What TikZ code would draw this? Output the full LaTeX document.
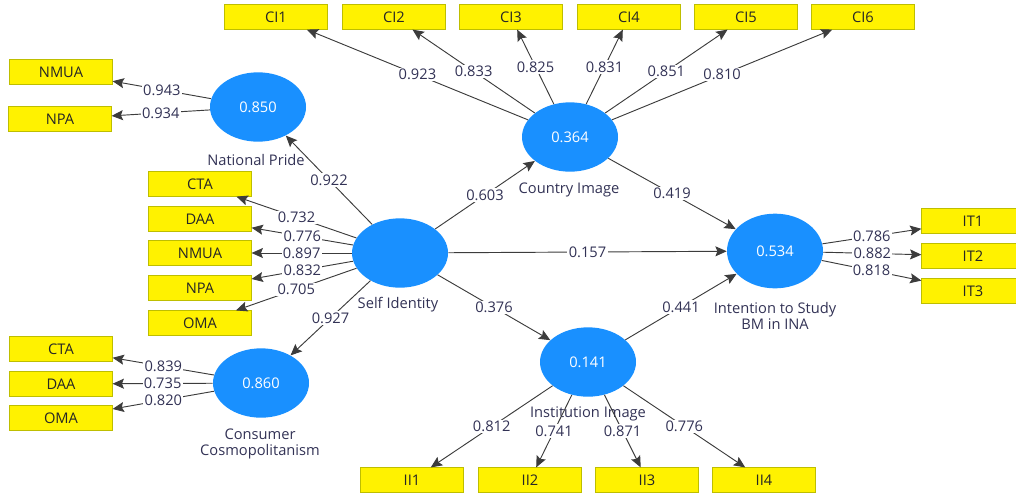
\documentclass[tikz,border=0pt]{standalone}
\usepackage{fontspec}
\setmainfont{Open Sans}
\usetikzlibrary{arrows.meta,shapes.geometric}
\definecolor{plsblue}{RGB}{25,144,255}
\definecolor{boxline}{RGB}{190,190,0}
\definecolor{linecol}{RGB}{60,60,60}
\definecolor{numcol}{RGB}{50,50,85}

\begin{document}
\begin{tikzpicture}[x=0.75pt,y=-0.75pt,
  lv/.style={ellipse,fill=plsblue,minimum width=72pt,minimum height=52pt,inner sep=0pt,
    text=white,font=\fontsize{11}{12}\selectfont},
  mv/.style={rectangle,fill=yellow,draw=boxline,minimum width=77pt,minimum height=18.5pt,
    inner sep=0pt,text=black!85,font=\fontsize{11}{12}\selectfont},
  lvname/.style={align=center,text=numcol,inner sep=0pt,font=\fontsize{11}{12.5}\selectfont},
  load/.style={draw=linecol,line width=0.7pt,-{Stealth[length=8.5pt,width=7.5pt,inset=1.5pt]}},
  coef/.style={fill=white,inner sep=1pt,text=numcol,font=\fontsize{11}{12}\selectfont}]
\useasboundingbox (0,0) rectangle (1016,493);

% latent variables
\node[lv] (np) at (258,107) {0.850};
\node[lv] (ci) at (570,137) {0.364};
\node[lv] (si) at (400,253) {};
\node[lv,minimum height=56pt] (it) at (775,251) {0.534};
\node[lv] (ii) at (588,362) {0.141};
\node[lv] (cc) at (261,383) {0.860};

\node[lvname] (npname) at (256,160) {National Pride};
\node[lvname] (ciname) at (569,190) {Country Image};
\node[lvname] (siname) at (398,305) {Self Identity};
\node[lvname] (itname) at (775,316) {Intention to Study\\BM in INA};
\node[lvname] (iiname) at (588,414) {Institution Image};
\node[lvname] (ccname) at (260,444) {Consumer\\Cosmopolitanism};

% indicators
\node[mv] (ci1) at (276,17) {CI1};
\node[mv] (ci2) at (394,17) {CI2};
\node[mv] (ci3) at (511,17) {CI3};
\node[mv] (ci4) at (629,17) {CI4};
\node[mv] (ci5) at (746,17) {CI5};
\node[mv] (ci6) at (863,17) {CI6};
\node[mv] (npnmua) at (61,72) {NMUA};
\node[mv] (npnpa) at (60,119) {NPA};
\node[mv] (sicta) at (200,184) {CTA};
\node[mv] (sidaa) at (200,219) {DAA};
\node[mv] (sinmua) at (200,253) {NMUA};
\node[mv] (sinpa) at (200,288) {NPA};
\node[mv] (sioma) at (200,323) {OMA};
\node[mv] (cccta) at (61,349) {CTA};
\node[mv] (ccdaa) at (61,384) {DAA};
\node[mv] (ccoma) at (61,418) {OMA};
\node[mv] (it1) at (973,221) {IT1};
\node[mv] (it2) at (973,256) {IT2};
\node[mv] (it3) at (973,291) {IT3};
\node[mv] (ii1) at (412,480) {II1};
\node[mv] (ii2) at (530,480) {II2};
\node[mv] (ii3) at (647,480) {II3};
\node[mv] (ii4) at (764,480) {II4};

% outer loadings
\draw[load] (ci) -- node[coef]{0.923} (ci1);
\draw[load] (ci) -- node[coef]{0.833} (ci2);
\draw[load] (ci) -- node[coef]{0.825} (ci3);
\draw[load] (ci) -- node[coef]{0.831} (ci4);
\draw[load] (ci) -- node[coef]{0.851} (ci5);
\draw[load] (ci) -- node[coef]{0.810} (ci6);
\draw[load] (np) -- node[coef]{0.943} (npnmua);
\draw[load] (np) -- node[coef]{0.934} (npnpa);
\draw[load] (si) -- node[coef]{0.732} (sicta);
\draw[load] (si) -- node[coef]{0.776} (sidaa);
\draw[load] (si) -- node[coef]{0.897} (sinmua);
\draw[load] (si) -- node[coef]{0.832} (sinpa);
\draw[load] (si) -- node[coef]{0.705} (sioma);
\draw[load] (cc) -- node[coef]{0.839} (cccta);
\draw[load] (cc) -- node[coef]{0.735} (ccdaa);
\draw[load] (cc) -- node[coef]{0.820} (ccoma);
\draw[load] (it) -- node[coef]{0.786} (it1);
\draw[load] (it) -- node[coef]{0.882} (it2);
\draw[load] (it) -- node[coef]{0.818} (it3);
\draw[load] (ii) -- node[coef]{0.812} (ii1);
\draw[load] (ii) -- node[coef]{0.741} (ii2);
\draw[load] (ii) -- node[coef]{0.871} (ii3);
\draw[load] (ii) -- node[coef]{0.776} (ii4);

% path coefficients
\draw[load] (si) -- node[coef]{0.922} (np);
\draw[load] (si) -- node[coef]{0.927} (cc);
\draw[load] (si) -- node[coef]{0.603} (ci);
\draw[load] (si) -- node[coef]{0.157} (it);
\draw[load] (si) -- node[coef]{0.376} (ii);
\draw[load] (ci) -- node[coef]{0.419} (it);
\draw[load] (ii) -- node[coef]{0.441} (it);
\end{tikzpicture}
\end{document}
